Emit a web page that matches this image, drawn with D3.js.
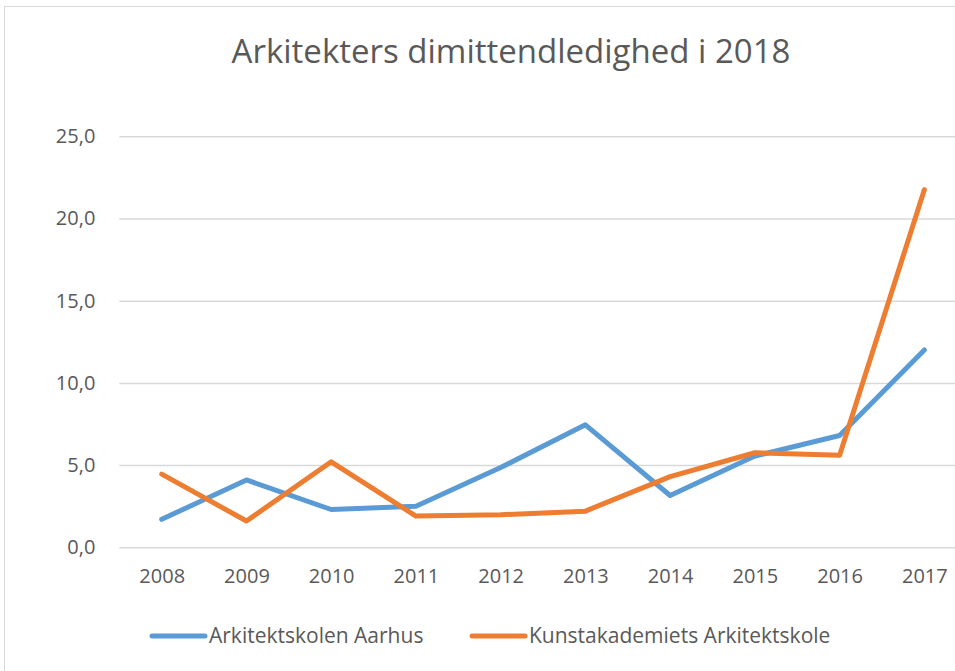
<!DOCTYPE html>
<html>
<head>
<meta charset="utf-8">
<script src="https://cdn.jsdelivr.net/npm/d3@7"></script>
<style>
  html, body { margin: 0; padding: 0; background: #fff; }
  svg { display: block; }
  text { font-family: "Open Sans", Lato, sans-serif; fill: #595959; }
</style>
</head>
<body>
<svg id="chart" width="955" height="671"></svg>
<script>
const years = ["2008","2009","2010","2011","2012","2013","2014","2015","2016","2017"];
const aarhus = [1.7, 4.1, 2.3, 2.5, 4.85, 7.45, 3.15, 5.55, 6.8, 12.0];
const kunstakademiet = [4.45, 1.6, 5.2, 1.9, 1.98, 2.2, 4.3, 5.75, 5.6, 21.75];
const yTicks = [0, 5, 10, 15, 20, 25];
const seriesNames = ["Arkitektskolen Aarhus", "Kunstakademiets Arkitektskole"];
const colors = ["#5b9bd5", "#ed7d31"];

const svg = d3.select("#chart");
const FONT = "'Open Sans', Lato, sans-serif";

// outer chart frame
svg.append("rect").attr("x", 4.5).attr("y", 6.5).attr("width", 980).attr("height", 700)
  .attr("fill", "none").attr("stroke", "#d9d9d9").attr("stroke-width", 1);

const x = d3.scalePoint().domain(years).range([119.35, 966.7]).padding(0.5);
const y = d3.scaleLinear().domain([0, 25]).range([547.3, 136.3]);

// title
svg.append("text").attr("x", 511).attr("y", 63).attr("text-anchor", "middle")
  .style("font-size", "33px").text("Arkitekters dimittendledighed i 2018");

// gridlines + y axis labels
const yAxis = d3.axisLeft(y).tickValues(yTicks)
  .tickSize(-(966.7 - 119.35))
  .tickPadding(24)
  .tickFormat(d => d3.format(".1f")(d).replace(".", ","));
const gy = svg.append("g").attr("transform", "translate(119.35,0)").call(yAxis);
gy.select(".domain").remove();
gy.selectAll(".tick line").attr("stroke", "#d9d9d9").attr("stroke-width", 1.5);
gy.selectAll(".tick text").style("font-size", "20px").attr("fill", "#595959")
  .style("font-family", FONT);

// x axis labels
const xAxis = d3.axisBottom(x).tickSize(0).tickPadding(22);
const gx = svg.append("g").attr("transform", "translate(0,547.3)").call(xAxis);
gx.select(".domain").remove();
gx.selectAll(".tick text").style("font-size", "20px").attr("fill", "#595959")
  .style("font-family", FONT);

// lines
const line = d3.line().x((d, i) => x(years[i])).y(d => y(d));
[aarhus, kunstakademiet].forEach((s, k) => {
  svg.append("path").datum(s).attr("d", line)
    .attr("fill", "none").attr("stroke", colors[k]).attr("stroke-width", 5)
    .attr("stroke-linejoin", "round").attr("stroke-linecap", "round");
});

// legend
const legendX = [152, 472];
seriesNames.forEach((n, k) => {
  const g = svg.append("g").attr("transform", `translate(${legendX[k]},636)`);
  g.append("line").attr("x1", 0).attr("x2", 53).attr("y1", 0).attr("y2", 0)
    .attr("stroke", colors[k]).attr("stroke-width", 5).attr("stroke-linecap", "round");
  g.append("text").attr("x", 57).attr("y", 6.5).style("font-size", "21px").text(n);
});
</script>
</body>
</html>
